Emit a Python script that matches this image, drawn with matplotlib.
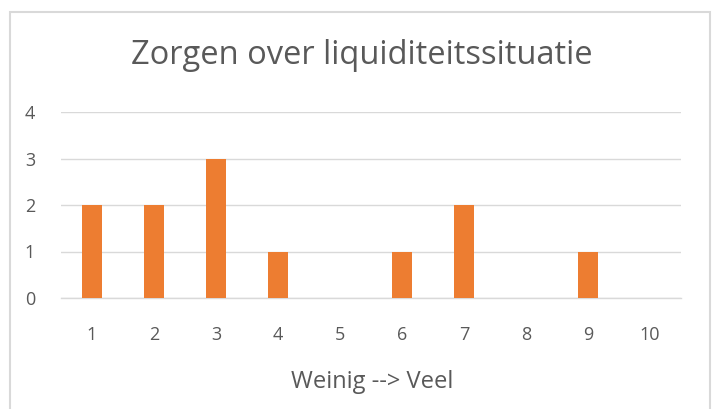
import matplotlib
matplotlib.use("Agg")
import matplotlib.pyplot as plt
from matplotlib.patches import Rectangle

# scores 1..10 en aantal antwoorden
categorieen = ['1', '2', '3', '4', '5', '6', '7', '8', '9', '10']
aantallen = [2, 2, 3, 1, 0, 1, 2, 0, 1, 0]
y_ticks = [0, 1, 2, 3, 4]

oranje = '#ED7D31'
grijs_tekst = '#595959'
grijs_lijn = '#D9D9D9'

plt.rcParams['font.family'] = ['Open Sans', 'DejaVu Sans']

fig = plt.figure(figsize=(7.15, 4.09), dpi=100)
fig.patch.set_facecolor('white')

# rand om de grafiek
fig.add_artist(Rectangle((10 / 715, -0.05), 700 / 715, 1.05 - 12 / 409,
                         transform=fig.transFigure, fill=False,
                         edgecolor=grijs_lijn, linewidth=1.5))

ax = fig.add_axes([61 / 715, 1 - 298 / 409, 620 / 715, (298 - 112) / 409])
x = range(len(categorieen))
ax.bar(x, aantallen, width=0.32, color=oranje, zorder=3)

ax.set_xlim(-0.5, len(categorieen) - 0.5)
ax.set_ylim(0, 4)
ax.set_yticks(y_ticks)
ax.set_xticks(list(x))
ax.set_xticklabels(categorieen)
ax.grid(axis='y', color=grijs_lijn, linewidth=1, zorder=0)
for s in ['top', 'right', 'left']:
    ax.spines[s].set_visible(False)
ax.spines['bottom'].set_color(grijs_lijn)
ax.spines['bottom'].set_linewidth(1)
ax.tick_params(length=0, colors=grijs_tekst, labelsize=13)
ax.tick_params(axis='x', pad=20)
ax.tick_params(axis='y', pad=26)
for lab in ax.get_yticklabels():
    lab.set_horizontalalignment('left')

fig.text(362 / 715, 1 - 55 / 409, 'Zorgen over liquiditeitssituatie',
         ha='center', va='center', fontsize=23.5, color=grijs_tekst)
fig.text(372 / 715, 1 - 388 / 409, 'Weinig --> Veel',
         ha='center', va='baseline', fontsize=17, color=grijs_tekst)

fig.savefig('out.png', dpi=100)
